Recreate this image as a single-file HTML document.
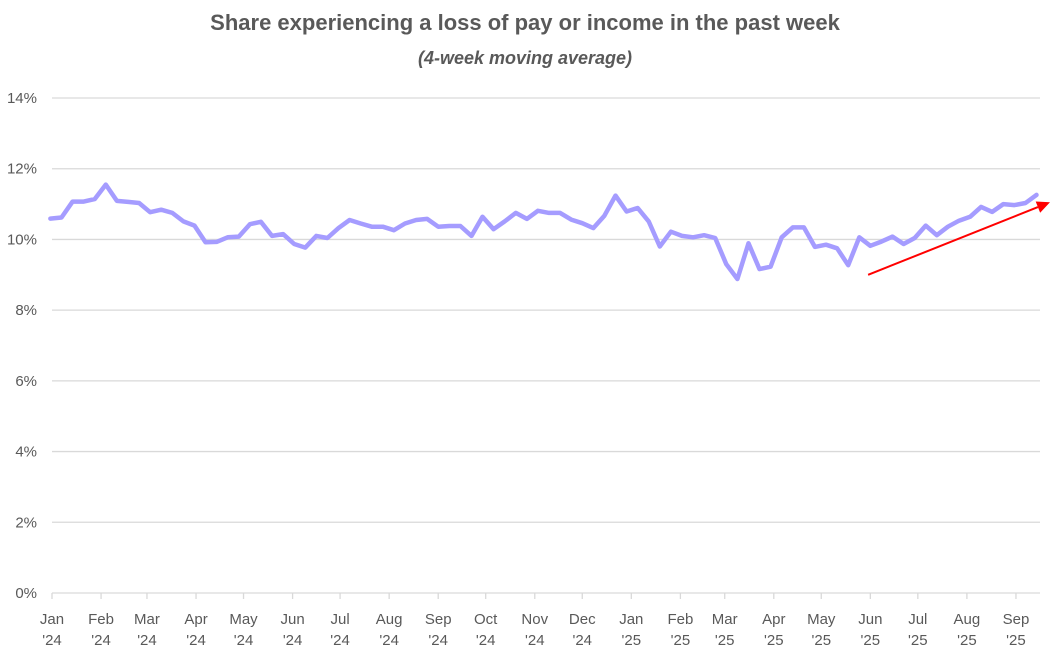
<!DOCTYPE html>
<html><head><meta charset="utf-8"><style>
body{margin:0;background:#fff;}
svg{display:block;font-family:"Liberation Sans",sans-serif;}
</style></head><body>
<svg id="chart" width="1051" height="659">
<text x="525" y="30" text-anchor="middle" font-size="22" font-weight="bold" fill="#595959">Share experiencing a loss of pay or income in the past week</text>
<text x="525" y="64" text-anchor="middle" font-size="18" font-weight="bold" font-style="italic" fill="#595959">(4-week moving average)</text>
<g id="grid"></g>
<g id="yaxis"></g>
<g id="xaxis"></g>
<g id="series"></g>
</svg>
<script>
const values=[10.59,10.62,11.07,11.07,11.14,11.55,11.09,11.06,11.03,10.77,10.84,10.75,10.51,10.39,9.92,9.93,10.06,10.08,10.43,10.50,10.10,10.15,9.87,9.77,10.10,10.04,10.32,10.55,10.45,10.36,10.36,10.26,10.45,10.55,10.58,10.36,10.38,10.38,10.10,10.64,10.29,10.51,10.75,10.58,10.81,
10.75,10.75,10.56,10.46,10.32,10.67,11.24,10.79,10.89,10.51,9.80,10.22,10.10,10.06,10.12,10.04,9.30,8.88,9.89,9.16,9.23,10.06,10.34,10.34,9.79,9.85,9.75,9.27,10.06,9.82,9.94,10.08,9.87,10.04,10.39,10.12,10.36,10.53,10.64,10.92,10.78,11.00,10.97,11.03,11.26];
const yTicks=[0,2,4,6,8,10,12,14];
const monthNames=["Jan","Feb","Mar","Apr","May","Jun","Jul","Aug","Sep","Oct","Nov","Dec","Jan","Feb","Mar","Apr","May","Jun","Jul","Aug","Sep"];
const monthYears=["'24","'24","'24","'24","'24","'24","'24","'24","'24","'24","'24","'24","'25","'25","'25","'25","'25","'25","'25","'25","'25"];
const trendStart=[9.0,73.8]; // [value, week index]
const trendEnd=[11.05,90.3];

const NS="http://www.w3.org/2000/svg";
const X0=52, PX_PER_DAY=11.08/7, Y0=593, PX_PER_PCT=(593-98)/14;
const firstPointDay=-1;
const y=v=>Y0-v*PX_PER_PCT;
const xDay=d=>X0+d*PX_PER_DAY;
const xIdx=i=>xDay(firstPointDay+i*7);
function mk(tag,attrs,parent){const e=document.createElementNS(NS,tag);for(const k in attrs)e.setAttribute(k,attrs[k]);parent.appendChild(e);return e;}
const grid=document.getElementById('grid'),ya=document.getElementById('yaxis'),xa=document.getElementById('xaxis'),ser=document.getElementById('series');
yTicks.forEach(t=>{
  if(t>0){const l=mk('line',{x1:52,x2:1040,y1:y(t),y2:y(t),stroke:'#d9d9d9','stroke-width':1.3},grid);
  
  }
  const tx=mk('text',{x:37,y:y(t)+5,'text-anchor':'end','font-size':15,fill:'#595959'},ya);
  tx.textContent=t+'%';
  
  
});
const ax=mk('line',{x1:52,x2:1040,y1:Y0,y2:Y0,stroke:'#d9d9d9','stroke-width':1.3},xa);


monthNames.forEach((m,i)=>{
  const yr=2024+Math.floor(i/12), mo=i%12;
  const d=(Date.UTC(yr,mo,1)-Date.UTC(2024,0,1))/86400000;
  const xx=xDay(d);
  const tk=mk('line',{x1:xx,x2:xx,y1:Y0,y2:Y0+6,stroke:'#d9d9d9','stroke-width':1.3},xa);
  
  
  const t1=mk('text',{x:xx,y:624,'text-anchor':'middle','font-size':15,fill:'#595959'},xa);
  t1.textContent=m;
  
  
  const t2=mk('text',{x:xx,y:645,'text-anchor':'middle','font-size':15,fill:'#595959'},xa);
  t2.textContent=monthYears[i];
  
  
});
const pts=values.map((v,i)=>xIdx(i).toFixed(1)+','+y(v).toFixed(1)).join(' ');
const pl=mk('polyline',{points:pts,fill:'none',stroke:'#a59cff','stroke-width':4.5,'stroke-linejoin':'round','stroke-linecap':'round'},ser);


const sx=xIdx(trendStart[1]),sy=y(trendStart[0]),ex=Math.min(xIdx(trendEnd[1]),1050),ey=y(trendEnd[0]);
const ang=Math.atan2(ey-sy,ex-sx),hl=13,hw=6;
const bx=ex-hl*Math.cos(ang),by=ey-hl*Math.sin(ang);
const al=mk('line',{x1:sx,y1:sy,x2:bx,y2:by,stroke:'#ff0000','stroke-width':2},ser);


const ah=mk('polygon',{points:`${ex},${ey} ${bx+hw*Math.sin(ang)},${by-hw*Math.cos(ang)} ${bx-hw*Math.sin(ang)},${by+hw*Math.cos(ang)}`,fill:'#ff0000'},ser);


</script>
</body></html>
